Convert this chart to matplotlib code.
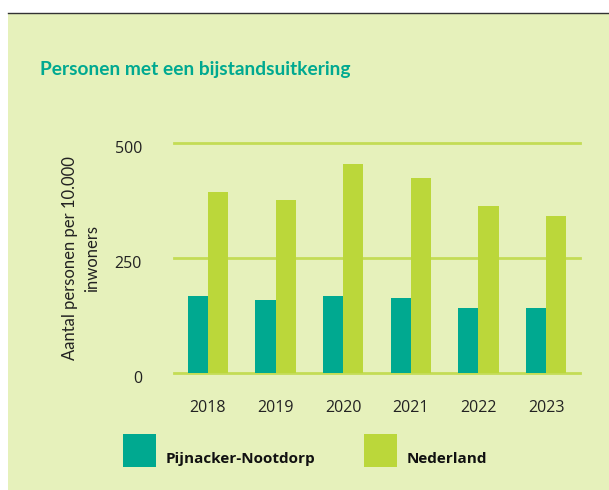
import matplotlib.pyplot as plt
import numpy as np
from matplotlib.patches import Rectangle
from matplotlib.lines import Line2D
from matplotlib.transforms import ScaledTranslation

years = ["2018", "2019", "2020", "2021", "2022", "2023"]
pijnacker = [168, 159, 168, 164, 142, 142]
nederland = [394, 377, 455, 425, 364, 342]
yticks = [0, 250, 500]

BG = "#e6f1bb"
TEAL = "#00a990"
LIME = "#bbd73a"
GRID = "#c4dc55"

plt.rcParams["font.family"] = ["Open Sans", "DejaVu Sans"]

W, H = 609, 490
fig = plt.figure(figsize=(W / 100, H / 100), dpi=100)
fig.patch.set_facecolor("white")

# panel background and top rule
fig.add_artist(Rectangle((8 / W, 0), 1 - 8 / W, 1 - 14 / H, transform=fig.transFigure,
                         facecolor=BG, edgecolor="none", zorder=0))
fig.add_artist(Line2D([8 / W, 1], [1 - 13.5 / H, 1 - 13.5 / H], transform=fig.transFigure,
                      color="#333333", linewidth=1.0))

ax = fig.add_axes([174 / W, 1 - 373.3 / H, 406 / W, 230 / H])
ax.set_facecolor("none")

x = np.arange(len(years))
w = 0.3
ax.bar(x - w / 2, pijnacker, width=w, color=TEAL, zorder=3)
ax.bar(x + w / 2, nederland, width=w, color=LIME, zorder=3)

for yv in yticks:
    ax.axhline(yv, color=GRID, linewidth=2.0, clip_on=False, zorder=2)

ax.set_xlim(-0.5, len(years) - 0.5)
ax.set_ylim(0, 500)
ax.set_yticks(yticks)
ax.set_yticklabels([str(v) for v in yticks], fontsize=11.5, color="#222222")
ax.set_xticks(x)
ax.set_xticklabels(years, fontsize=11.5, color="#222222")
ax.tick_params(length=0)
ax.tick_params(axis="y", pad=23)
ax.tick_params(axis="x", pad=19)
shift = ScaledTranslation(0, -4 / 100, fig.dpi_scale_trans)
for lab in ax.get_yticklabels():
    lab.set_transform(lab.get_transform() + shift)
for s in ax.spines.values():
    s.set_visible(False)

fig.text(81 / W, 1 - 258 / H, "Aantal personen per 10.000\ninwoners", rotation=90,
         ha="center", va="center", fontsize=12, color="#222222", linespacing=1.45,
         family=["Lato", "DejaVu Sans"])

fig.text(40 / W, 1 - 69 / H, "Personen met een bijstandsuitkering", ha="left", va="center",
         fontsize=13.8, fontweight="bold", color=TEAL, family=["Lato", "DejaVu Sans"])

# legend
for x0, col, label in [(123, TEAL, "Pijnacker-Nootdorp"), (364, LIME, "Nederland")]:
    fig.add_artist(Rectangle((x0 / W, 1 - 467 / H), 33 / W, 33 / H, transform=fig.transFigure,
                             facecolor=col, edgecolor="none"))
    fig.text((x0 + 43) / W, 1 - 459 / H, label, ha="left", va="center", fontsize=11,
             fontweight="bold", color="#111111")

fig.savefig("out.png", dpi=100)
